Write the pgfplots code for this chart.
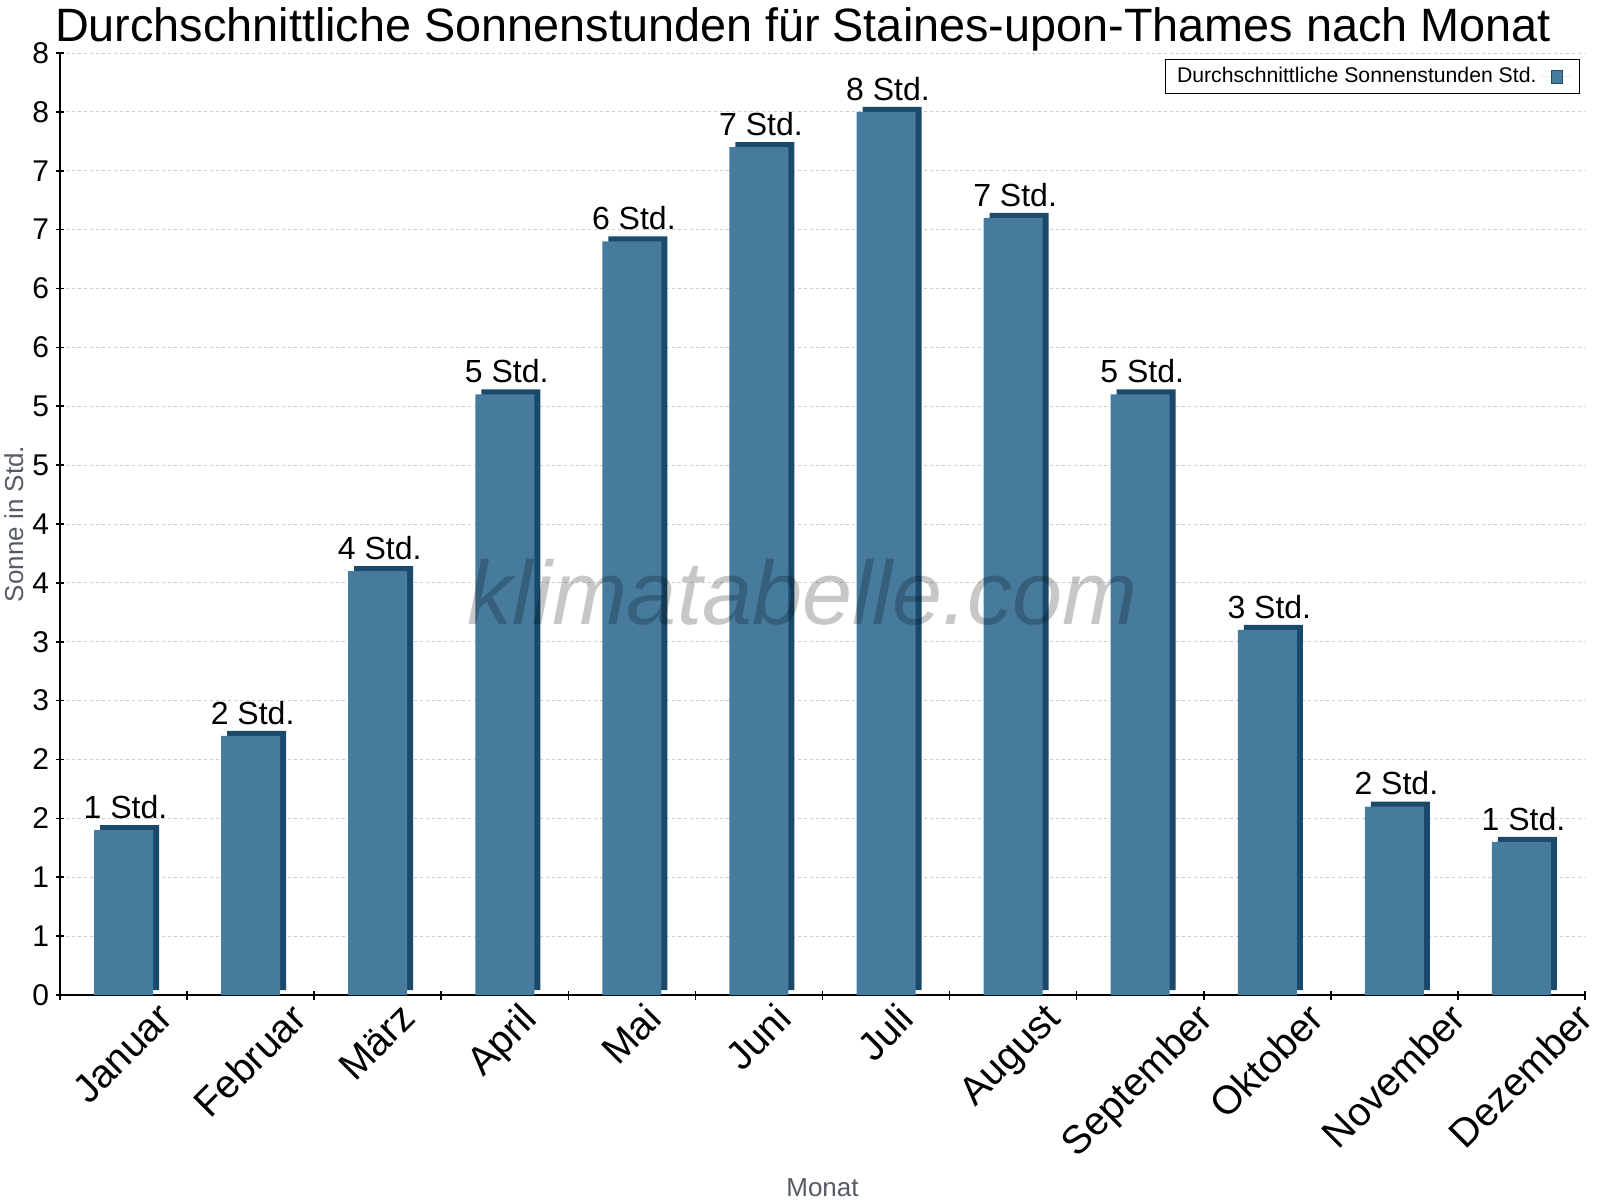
\documentclass[border=0pt]{standalone}
\usepackage{fontspec}
\setmainfont{Liberation Sans}
\usepackage{pgfplots}
\usepackage{pgfplotstable}
\pgfplotsset{compat=1.18}
\definecolor{barfront}{RGB}{70,123,158}
\definecolor{barside}{RGB}{26,74,107}
\definecolor{labelgray}{RGB}{85,90,100}

% Monat (0 = Januar), Sonnenstunden, gerundete Beschriftung
\pgfplotstableread{
x y lab
0 1.4 1
1 2.2 2
2 3.6 4
3 5.1 5
4 6.4 6
5 7.2 7
6 7.5 8
7 6.6 7
8 5.1 5
9 3.1 3
10 1.6 2
11 1.3 1
}\sonne

\begin{document}
\begin{tikzpicture}
\useasboundingbox (-30pt,-102.5pt) rectangle (770pt,497.5pt);
\begin{axis}[
  at={(0,0)}, anchor=south west,
  scale only axis,
  width=762.5pt, height=471pt,
  xmin=-0.5, xmax=11.5, ymin=0, ymax=8,
  axis x line*=bottom, axis y line*=left,
  axis line style={line width=1pt, -},
  xtick={-0.5,0.5,...,11.5},
  xticklabels={,,,,,,,,,,,,},
  extra x ticks={0,...,11},
  extra x tick labels={\rotatebox{45}{Januar},\rotatebox{45}{Februar},\rotatebox{45}{März},\rotatebox{45}{April},\rotatebox{45}{Mai},\rotatebox{45}{Juni},\rotatebox{45}{Juli},\rotatebox{45}{August},\rotatebox{45}{September},\rotatebox{45}{Oktober},\rotatebox{45}{November},\rotatebox{45}{Dezember}},
  extra x tick style={major tick length=0pt, xticklabel style={anchor=north, inner sep=0pt, yshift=-2.8pt, xshift=-0.5pt, font=\fontsize{19.8}{22}\selectfont}},
  ytick={0,0.5,...,8},
  yticklabels={0,1,1,2,2,3,3,4,4,5,5,6,6,7,7,8,8},
  yticklabel style={inner sep=0pt, xshift=-3pt, font=\fontsize{15}{17}\selectfont},
  tick align=center,
  major tick length=4.5pt,
  tick style={line width=0.8pt, black},
  ymajorgrids,
  major grid style={gray!40, dash pattern=on 1.5pt off 1.5pt, line width=0.5pt},
  every axis title shift=0pt,
  title={Durchschnittliche Sonnenstunden für Staines-upon-Thames nach Monat},
  title style={at={(axis description cs:0.4872,1)}, anchor=south, yshift=0.5pt, inner sep=0pt, font=\fontsize{23.4}{26}\selectfont},
  xlabel={Monat},
  xlabel style={at={(axis description cs:0.5,0)}, anchor=center, yshift=-96.5pt, inner sep=0pt, text=labelgray, font=\fontsize{13}{15}\selectfont},
  ylabel={Sonne in Std.},
  ylabel style={at={(axis description cs:-0.0302,0.5)}, anchor=center, inner sep=0pt, text=labelgray, font=\fontsize{13}{15}\selectfont},
  legend plot pos=right,
  legend style={at={(1,1)}, anchor=north east, yshift=-3pt, xshift=-2.5pt, draw=black, line width=0.5pt, fill=white,
    font=\fontsize{10.6}{12}\selectfont, inner xsep=4pt, inner ysep=2pt},
  legend image code/.code={
    \path (0pt,0pt) -- (15.5pt,0pt);
    \draw[fill=barfront, draw=barside, line width=0.5pt] (5.3pt,-3.3pt) rectangle (10.8pt,3.3pt);},
]
% dunkle Seite und Deckel
\addplot[ybar, bar width=29.5pt, bar shift=3pt, yshift=2.5pt, fill=barside, draw=none, forget plot]
  table[x=x, y=y] {\sonne};
% Vorderseite
\addplot[ybar, bar width=29.5pt, bar shift=0pt, fill=barfront, draw=none,
  point meta=explicit symbolic,
  nodes near coords={\pgfplotspointmeta~Std.},
  every node near coord/.append style={anchor=south, inner sep=0pt, yshift=5.5pt, xshift=1pt, text=black, font=\fontsize{16}{18}\selectfont}]
  table[x=x, y=y, meta=lab] {\sonne};
\addlegendentry{Durchschnittliche Sonnenstunden Std.}
\node[font=\fontsize{45}{50}\selectfont\itshape, text=black, opacity=0.22] at (axis cs:5.34,3.42) {klimatabelle.com};
\end{axis}
\end{tikzpicture}
\end{document}
